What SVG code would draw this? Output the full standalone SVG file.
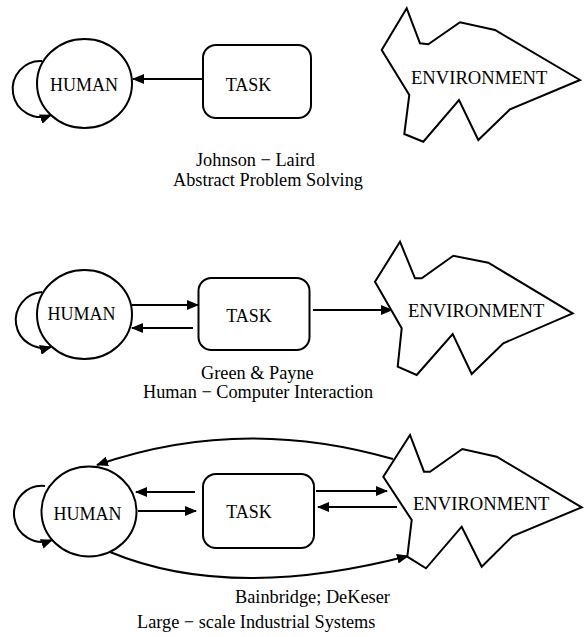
<svg xmlns="http://www.w3.org/2000/svg" width="584" height="637" viewBox="0 0 584 637">
<style>
text{font-family:"Liberation Serif","Times New Roman",serif;font-size:18px;fill:#000}
.env{font-size:18.6px}
.cap{font-size:18.3px}
.shape{fill:#fff;stroke:#000;stroke-width:2}
.ln{fill:none;stroke:#000;stroke-width:2}
.arr{marker-end:url(#ah)}
</style>
<defs>
<marker id="ah" markerUnits="userSpaceOnUse" markerWidth="12" markerHeight="10" refX="11" refY="5" orient="auto">
<path d="M0,0 L12,5 L0,10 z" fill="#000"/>
</marker>
</defs>
<rect width="584" height="637" fill="#fff"/>

<g id="connectors">
<!-- panel 1 -->
<path class="ln arr" d="M42,61 A28,28 0 1 0 51,115"/>
<path class="ln arr" d="M203,79 L133,79"/>
<!-- panel 2 -->
<path class="ln arr" d="M42,292 A28,28 0 1 0 51,347"/>
<path class="ln arr" d="M132,305 L198,305"/>
<path class="ln arr" d="M193,328 L132,328"/>
<path class="ln arr" d="M313,310 L392,310"/>
<!-- panel 3 -->
<path class="ln arr" d="M45,486 A28,28 0 1 0 52,540"/>
<path class="ln arr" d="M195,492 L136,492"/>
<path class="ln arr" d="M138,511 L196,511"/>
<path class="ln arr" d="M316,491 L387,491"/>
<path class="ln arr" d="M397,507 L318,507"/>
<path class="ln arr" d="M393,459 Q240,415 97,465"/>
<path class="ln arr" d="M110,552 Q230,602 408,556"/>
</g>

<g id="human1"><ellipse class="shape" cx="84.5" cy="83.5" rx="47.5" ry="44.5"/><text x="84" y="91" text-anchor="middle">HUMAN</text></g>
<g id="task1"><rect class="shape" x="203" y="45" width="108" height="73" rx="13"/><text x="248.5" y="91" text-anchor="middle">TASK</text></g>
<g id="env1"><polygon class="shape" points="406.7,8.3 381.7,50 409.3,95 404.3,134 423.3,141.7 459,100 478.3,140 510,109.3 580,80 495,30 460,22.3 428.3,44.3 420,43.3"/><text class="env" x="411" y="84">ENVIRONMENT</text></g>
<g id="caption1"><text class="cap" x="196" y="166">Johnson − Laird</text><text class="cap" x="173" y="186">Abstract Problem Solving</text></g>

<g id="human2"><ellipse class="shape" cx="84.5" cy="314.5" rx="47.5" ry="44.5"/><text x="81.5" y="320" text-anchor="middle">HUMAN</text></g>
<g id="task2"><rect class="shape" x="198.5" y="278" width="111" height="72" rx="13"/><text x="249" y="322" text-anchor="middle">TASK</text></g>
<g id="env2"><polygon class="shape" points="400,241.7 375,281.7 401.7,328.3 397.7,366.7 416.7,375 452.7,334 471.7,374 503.3,343.3 572.7,313.3 488.3,262.7 453.3,255.7 421.7,278.3 415,278.3"/><text class="env" x="408" y="317">ENVIRONMENT</text></g>
<g id="caption2"><text class="cap" x="201" y="379">Green &amp; Payne</text><text class="cap" x="143" y="398">Human − Computer Interaction</text></g>

<g id="human3"><ellipse class="shape" cx="89" cy="511.5" rx="47.5" ry="45"/><text x="87.5" y="520" text-anchor="middle">HUMAN</text></g>
<g id="task3"><rect class="shape" x="203" y="474" width="111" height="74" rx="13"/><text x="249" y="518" text-anchor="middle">TASK</text></g>
<g id="env3"><polygon class="shape" points="410,435 383.3,476.7 411.7,520 407.3,556.7 426,568.3 461.7,526.7 481.7,566.7 512.7,536 581.7,507.3 496.7,456.7 462.3,449 430,471.7 424,471.7"/><text class="env" x="413" y="510">ENVIRONMENT</text></g>
<g id="caption3"><text class="cap" x="235" y="603">Bainbridge; DeKeser</text><text class="cap" x="137" y="628">Large − scale Industrial Systems</text></g>
</svg>
